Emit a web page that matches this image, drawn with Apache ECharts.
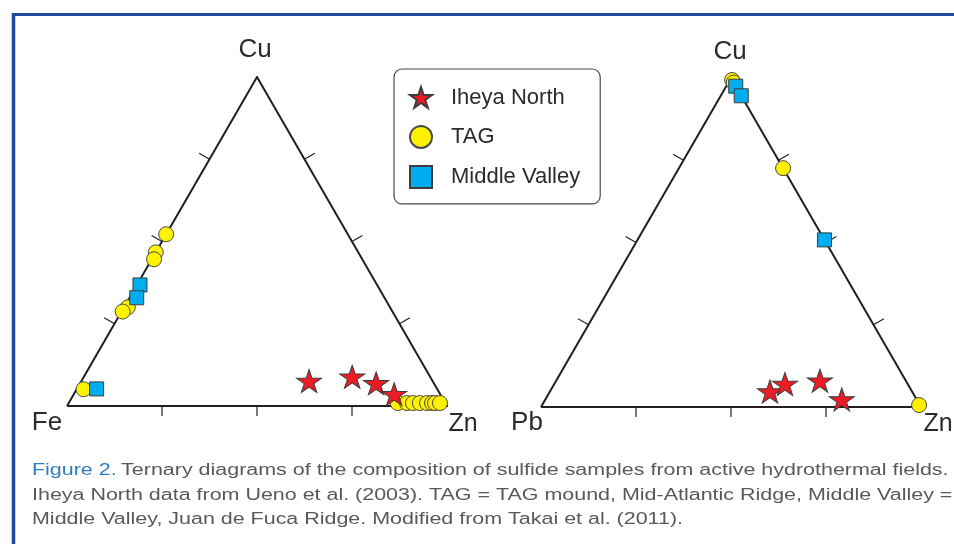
<!DOCTYPE html>
<html><head><meta charset="utf-8">
<script src="https://cdn.jsdelivr.net/npm/echarts@6/dist/echarts.min.js"></script>
<style>html,body{margin:0;padding:0;background:#fff}#c{width:954px;height:544px}</style>
</head><body><div id="c"></div>
<script>
// Left diagram values: [Cu, Fe, Zn] in %
const leftIheyaNorth = [[7.6,32.5,59.9],[8.9,20.5,70.6],[6.9,15.2,77.9],[3.6,12.1,84.3]];
const leftTAG = [[52.2,47.8,0],[46.7,53.3,0],[44.6,54.8,0.6],[30.0,69.0,1.0],[28.7,71.0,0.3],[5.1,93.1,1.8],
  [0.9,12.5,86.6],[0.9,10.1,89.0],[0.9,8.5,90.6],[0.9,6.7,92.4],[0.9,4.8,94.3],[0.9,3.5,95.6],[0.9,2.7,96.4],[0.9,1.4,97.7]];
const leftMiddleValley = [[36.8,62.4,0.8],[32.9,65.2,1.9],[5.2,89.6,5.2]];
// Right diagram values: [Cu, Pb, Zn] in %
const rightIheyaNorth = [[4.7,37.4,57.9],[7.0,32.3,60.7],[8.0,22.6,69.4],[2.3,19.7,78.0]];
const rightTAG = [[99.4,0,0.6],[98.6,0,1.4],[72.6,0,27.4],[0.6,0.2,99.2]];
const rightMiddleValley = [[97.5,0,2.5],[94.6,0,5.4],[50.8,0,49.2]];
// Vertex labels [top, left, right]
const leftVertexLabels = ['Cu','Fe','Zn'];
const rightVertexLabels = ['Cu','Pb','Zn'];
const tickFractions = [0.25, 0.5, 0.75];
const seriesNames = ['Iheya North','TAG','Middle Valley'];
const captionLabel = 'Figure 2.';
const captionLines = [
  'Ternary diagrams of the composition of sulfide samples from active hydrothermal fields.',
  'Iheya North data from Ueno et al. (2003). TAG = TAG mound, Mid-Atlantic Ridge, Middle Valley =',
  'Middle Valley, Juan de Fuca Ridge. Modified from Takai et al. (2011).'
];

const H = Math.sqrt(3) / 2;
function toXY(p) {
  const s = p[0] + p[1] + p[2];
  const top = p[0] / s, right = p[2] / s;
  return [right + top / 2, top * H];
}
const STAR = 'path://M0,-1L0.2245,-0.309L0.951,-0.309L0.363,0.118L0.588,0.809L0,0.382L-0.588,0.809L-0.363,0.118L-0.951,-0.309L-0.2245,-0.309Z';
const styles = {
  'Iheya North': {symbol: STAR, symbolSize: [25, 24], itemStyle: {color: '#ed1c24', borderColor: '#3c3c3c', borderWidth: 1, opacity: 1}},
  'TAG': {symbol: 'circle', symbolSize: 15, itemStyle: {color: '#fff200', borderColor: '#4a4a4a', borderWidth: 1, opacity: 1}},
  'Middle Valley': {symbol: 'rect', symbolSize: 14, itemStyle: {color: '#00aeef', borderColor: '#3c3c3c', borderWidth: 1, opacity: 1}}
};
const edgeColor = '#231f20';
const fontMain = "'Liberation Sans', Arial, sans-serif";

function triangleSeries(gi) {
  return {
    type: 'line', xAxisIndex: gi, yAxisIndex: gi, silent: true, symbol: 'none', z: 1,
    data: [[0, 0], [1, 0], [0.5, H], [0, 0]],
    lineStyle: {color: edgeColor, width: 2, join: 'miter'}, animation: false
  };
}
function tickSeries(gi) {
  const data = [];
  for (let e = 0; e < 3; e++) tickFractions.forEach(t => data.push([e, t]));
  return {
    type: 'custom', xAxisIndex: gi, yAxisIndex: gi, silent: true, z: 1, animation: false,
    encode: {x: -1, y: -1},
    data: data,
    renderItem: function (params, api) {
      const e = api.value(0), t = api.value(1);
      let pt, dir, len;
      if (e === 0) { pt = [t, 0]; dir = [0, 1]; len = 10; }
      else if (e === 1) { pt = [0.5 * t, H * t]; dir = [-H, -0.5]; len = 12; }
      else { pt = [1 - 0.5 * t, H * t]; dir = [H, -0.5]; len = 12; }
      const c = api.coord(pt);
      return {type: 'line', shape: {x1: c[0], y1: c[1], x2: c[0] + dir[0] * len, y2: c[1] + dir[1] * len},
        style: {stroke: edgeColor, lineWidth: 1.2}};
    }
  };
}
function scatter(gi, name, values) {
  const st = styles[name];
  return {
    type: 'scatter', name: name, xAxisIndex: gi, yAxisIndex: gi, z: name === 'Iheya North' ? 5 : (name === 'Middle Valley' ? 4 : 3),
    symbol: st.symbol, symbolSize: st.symbolSize, symbolKeepAspect: true, itemStyle: st.itemStyle,
    data: values.map(toXY), animation: false
  };
}

// caption scaling
const capFont = "'Liberation Sans Narrow', 'Liberation Sans', Arial, sans-serif";
const ctx = document.createElement('canvas').getContext('2d');
ctx.font = '16px ' + capFont;
const w1 = ctx.measureText(captionLabel + ' ' + captionLines[0]).width;
const capScale = 918 / w1;

function vlabel(text, x, y, size) {
  return {type: 'text', x: x, y: y, style: {text: text, fill: '#2b2b2b', font: size + 'px ' + fontMain, textAlign: 'center', textVerticalAlign: 'middle'}};
}

const chart = echarts.init(document.getElementById('c'), null, {renderer: 'canvas'});
chart.setOption({
  backgroundColor: '#ffffff',
  animation: false,
  grid: [
    {left: 67, top: 77, width: 380, height: 329},
    {left: 541, top: 78, width: 380, height: 329}
  ],
  xAxis: [0, 1].map(i => ({gridIndex: i, type: 'value', min: 0, max: 1, show: false})),
  yAxis: [0, 1].map(i => ({gridIndex: i, type: 'value', min: 0, max: H, show: false})),
  legend: {
    left: 394, top: 69, orient: 'vertical',
    data: [
      {name: 'Iheya North', icon: STAR},
      {name: 'TAG', icon: 'circle'},
      {name: 'Middle Valley', icon: 'rect'}
    ],
    itemWidth: 22, itemHeight: 22, itemGap: 16,
    padding: [17, 20, 15, 15],
    borderColor: '#4a4a4a', borderWidth: 1.2, borderRadius: 8,
    selectedMode: false,
    textStyle: {fontSize: 22, color: '#2b2b2b', fontFamily: fontMain, lineHeight: 22, padding: [0, 0, 0, 14]}
  },
  graphic: [
    {type: 'line', shape: {x1: 12, y1: 14.5, x2: 954, y2: 14.5}, style: {stroke: '#1d4b97', lineWidth: 3}},
    {type: 'line', shape: {x1: 13.5, y1: 13, x2: 13.5, y2: 544}, style: {stroke: '#1d4b97', lineWidth: 3.5}},
    vlabel(leftVertexLabels[0], 255, 50, 26),
    vlabel(leftVertexLabels[1], 47, 423, 26),
    vlabel(leftVertexLabels[2], 463, 424, 25),
    vlabel(rightVertexLabels[0], 730, 52, 26),
    vlabel(rightVertexLabels[1], 527, 423, 26),
    vlabel(rightVertexLabels[2], 938, 424, 25),
    {type: 'text', x: 32, y: 471, scaleX: capScale, style: {
      text: '{b|' + captionLabel + '} {g|' + captionLines[0] + '}', textVerticalAlign: 'middle',
      rich: {b: {fill: '#2f7dc1', font: '16px ' + capFont}, g: {fill: '#58595b', font: '16px ' + capFont}}}},
    {type: 'text', x: 32, y: 496, scaleX: capScale, style: {text: captionLines[1], fill: '#58595b', font: '16px ' + capFont, textVerticalAlign: 'middle'}},
    {type: 'text', x: 32, y: 520, scaleX: capScale, style: {text: captionLines[2], fill: '#58595b', font: '16px ' + capFont, textVerticalAlign: 'middle'}}
  ],
  series: [
    triangleSeries(0), tickSeries(0),
    scatter(0, 'TAG', leftTAG), scatter(0, 'Middle Valley', leftMiddleValley), scatter(0, 'Iheya North', leftIheyaNorth),
    triangleSeries(1), tickSeries(1),
    scatter(1, 'TAG', rightTAG), scatter(1, 'Middle Valley', rightMiddleValley), scatter(1, 'Iheya North', rightIheyaNorth)
  ]
});
</script></body></html>
